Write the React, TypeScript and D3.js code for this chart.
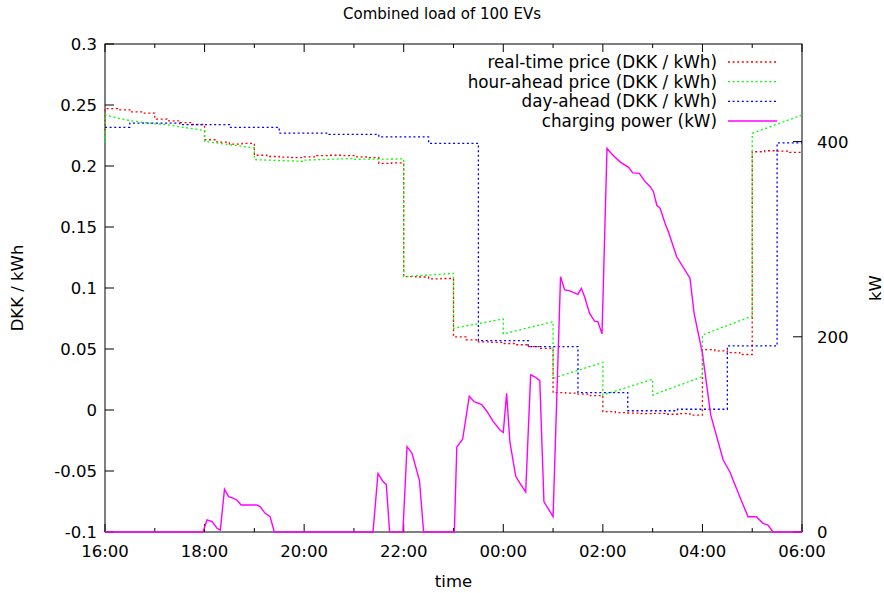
import React from 'react';
import * as d3 from 'd3';

// ---------- data ----------
// time in minutes after 16:00
const xMajorLabels = ['16:00', '18:00', '20:00', '22:00', '00:00', '02:00', '04:00', '06:00'];
const yTicks = [-0.1, -0.05, 0, 0.05, 0.1, 0.15, 0.2, 0.25, 0.3];
const yTickLabels = ['-0.1', '-0.05', '0', '0.05', '0.1', '0.15', '0.2', '0.25', '0.3'];
const y2Ticks = [0, 200, 400];

// real-time price, one value per 15-minute slot starting 16:00
const realTimeStart = 0.2295;
const realTimePrice = [
  0.247, 0.246, 0.2443, 0.2434,
  0.2385, 0.237, 0.2355, 0.234,
  0.2215, 0.2195, 0.218, 0.2185,
  0.2088, 0.2078, 0.2072, 0.2068,
  0.2075, 0.2085, 0.2088, 0.2085,
  0.2075, 0.2068, 0.2022, 0.2025,
  0.1093, 0.109, 0.1075, 0.1078,
  0.06, 0.0575, 0.0558, 0.0555,
  0.0545, 0.0535, 0.052, 0.0505,
  0.0142, 0.0138, 0.013, 0.0118,
  -0.0014, -0.0022, -0.0025, -0.003,
  -0.0028, -0.0035, -0.003, -0.0042,
  0.0495, 0.0485, 0.047, 0.0455,
  0.2117, 0.2125, 0.2122, 0.2112,
];

// hour-ahead price (ramps within each hour)
const hourAheadTimes = [0, 0, 15, 30, 45, 60, 75, 90, 105, 120, 120, 180, 180, 240, 240, 300, 300, 360, 360, 420, 420, 480, 480, 540, 540, 600, 600, 660, 660, 720, 720, 780, 780, 840];
const hourAheadValues = [0.219, 0.242, 0.2393, 0.2372, 0.2358, 0.2347, 0.2339, 0.2322, 0.2306, 0.229, 0.2202, 0.2148, 0.2052, 0.2038, 0.2048, 0.2062, 0.2055, 0.2058, 0.1093, 0.112, 0.067, 0.0746, 0.0623, 0.0724, 0.026, 0.039, 0.0123, 0.0252, 0.0123, 0.0273, 0.0615, 0.077, 0.2268, 0.2418];

// day-ahead price (hourly, shifted by half an hour)
const dayAheadTimes = [0, 30, 90, 150, 210, 270, 330, 390, 450, 510, 570, 630, 690, 750, 810, 840];
const dayAheadValues = [0.2317, 0.2352, 0.2339, 0.2317, 0.227, 0.226, 0.2238, 0.2186, 0.0568, 0.0519, 0.0142, -0.0006, 0.0006, 0.0525, 0.219, 0.219];

// charging power (kW)
const powerTimes = [0, 118, 123, 129, 135, 139, 144, 149, 155, 159, 164, 183, 187, 193, 199, 204, 323, 329, 335, 339, 343, 359, 364, 370, 379, 384, 421, 424, 431, 439, 445, 454, 460, 468, 476, 480, 484, 488, 495, 500, 507, 513, 518, 524, 529, 540, 549, 554, 560, 570, 574, 578, 584, 590, 594, 599, 605, 611, 621, 631, 636, 644, 650, 657, 661, 665, 669, 675, 679, 689, 705, 710, 720, 730, 745, 753, 765, 775, 785, 793, 799, 805, 840];
const powerValues = [0, 0, 12.3, 10.6, 3.8, 2, 43.7, 36.2, 34.5, 32.8, 27.7, 27.7, 26, 19.1, 15.7, 0, 0, 60, 51.6, 48.8, 0, 0, 87.4, 80.6, 52.6, 0, 0, 87, 95, 139, 133.5, 130.5, 124, 113, 104.5, 102, 142, 92, 57, 50, 41, 161, 159, 155, 31, 15.7, 261.6, 248, 247, 243.5, 249.7, 241, 224, 216, 215.5, 203, 393, 387, 379, 373.6, 368, 367.5, 360, 353.8, 348.7, 335, 331.6, 316, 307.7, 282, 260, 224, 183, 120, 73.8, 61.8, 36, 15.7, 15.7, 8.9, 7.2, 0, 0];

const legendLabels = ['real-time price (DKK / kWh)', 'hour-ahead price (DKK / kWh)', 'day-ahead (DKK / kWh)', 'charging power (kW)'];

// ---------- chart ----------
const W = 884;
const H = 593;
const L = 105, R = 802, T = 44, B = 532;
const FONT = 'DejaVu Sans, sans-serif';

export default function App() {
  const x = d3.scaleLinear().domain([0, 840]).range([L, R]);
  const y = d3.scaleLinear().domain([-0.1, 0.3]).range([B, T]);
  const y2 = d3.scaleLinear().domain([0, 500]).range([B, T]);

  type P = { t: number; v: number };
  const stepLine = d3.line<P>().x(d => x(d.t)).y(d => y(d.v)).curve(d3.curveStepAfter);
  const linLine = d3.line<P>().x(d => x(d.t)).y(d => y(d.v));
  const powLine = d3.line<P>().x(d => x(d.t)).y(d => y2(d.v));

  const rtPts: P[] = [{ t: 0, v: realTimeStart }, ...realTimePrice.map((v, i) => ({ t: i * 15, v })), { t: 840, v: realTimePrice[realTimePrice.length - 1] }];
  const haPts: P[] = hourAheadTimes.map((t, i) => ({ t, v: hourAheadValues[i] }));
  const daPts: P[] = dayAheadTimes.map((t, i) => ({ t, v: dayAheadValues[i] }));
  const pwPts: P[] = powerTimes.map((t, i) => ({ t, v: powerValues[i] }));

  const hours = d3.range(0, 841, 60);
  const dash = '2,2.6';
  const legendY = [62, 81.7, 101.3, 121];
  const legendStyles = [
    { stroke: '#ff0000', dash, w: 1.3 },
    { stroke: '#00ff00', dash, w: 1.3 },
    { stroke: '#0000ff', dash, w: 1.3 },
    { stroke: '#ff00ff', dash: undefined, w: 1.6 },
  ];

  return (
    <svg width={W} height={H} style={{ position: 'absolute', left: 0, top: 0, background: '#fff' }} fontFamily={FONT}>
      <rect x={0} y={0} width={W} height={H} fill="#fff" />
      {/* title */}
      <text x={442} y={19} textAnchor="middle" fontSize={15} fill="#000">Combined load of 100 EVs</text>

      {/* ticks */}
      {hours.map((h, i) => {
        const major = i % 2 === 0;
        const len = major ? 8 : 4;
        return (
          <g key={'xt' + h}>
            <line x1={x(h)} x2={x(h)} y1={B} y2={B - len} stroke="#000" strokeWidth={1} />
            <line x1={x(h)} x2={x(h)} y1={T} y2={T + len} stroke="#000" strokeWidth={1} />
          </g>
        );
      })}
      {xMajorLabels.map((lab, i) => (
        <text key={'xl' + i} x={x(i * 120)} y={557} textAnchor="middle" fontSize={16.5} fill="#000">{lab}</text>
      ))}
      {yTicks.map((v, i) => (
        <g key={'yt' + i}>
          <line x1={L} x2={L + 9} y1={y(v)} y2={y(v)} stroke="#000" strokeWidth={1} />
          <text x={97} y={y(v) + 6} textAnchor="end" fontSize={16.5} fill="#000">{yTickLabels[i]}</text>
        </g>
      ))}
      {y2Ticks.map(v => (
        <g key={'y2t' + v}>
          <line x1={R} x2={R - 9} y1={y2(v)} y2={y2(v)} stroke="#000" strokeWidth={1} />
          <text x={817} y={y2(v) + 6} textAnchor="start" fontSize={16.5} fill="#000">{v}</text>
        </g>
      ))}

      {/* axis labels */}
      <text transform={`translate(23,${(T + B) / 2}) rotate(-90)`} textAnchor="middle" fontSize={16.5} fill="#000">DKK / kWh</text>
      <text transform={`translate(881,${(T + B) / 2}) rotate(-90)`} textAnchor="middle" fontSize={16.5} fill="#000">kW</text>
      <text x={(L + R) / 2} y={587} textAnchor="middle" fontSize={16.5} fill="#000">time</text>

      {/* border */}
      <rect x={L} y={T} width={R - L} height={B - T} fill="none" stroke="#000" strokeWidth={1} />

      {/* series */}
      <path d={stepLine(rtPts) || ''} fill="none" stroke="#ff0000" strokeWidth={1.3} strokeDasharray={dash} />
      <path d={linLine(haPts) || ''} fill="none" stroke="#00ff00" strokeWidth={1.3} strokeDasharray={dash} />
      <path d={stepLine(daPts) || ''} fill="none" stroke="#0000ff" strokeWidth={1.3} strokeDasharray={dash} />
      <path d={powLine(pwPts) || ''} fill="none" stroke="#ff00ff" strokeWidth={1.4} />

      {/* legend */}
      {legendLabels.map((lab, i) => (
        <g key={'lg' + i}>
          <text x={717} y={legendY[i] + 6} textAnchor="end" fontSize={16.8} fill="#000">{lab}</text>
          <line x1={728} x2={777} y1={legendY[i]} y2={legendY[i]} stroke={legendStyles[i].stroke} strokeWidth={legendStyles[i].w} strokeDasharray={legendStyles[i].dash} />
        </g>
      ))}
    </svg>
  );
}
